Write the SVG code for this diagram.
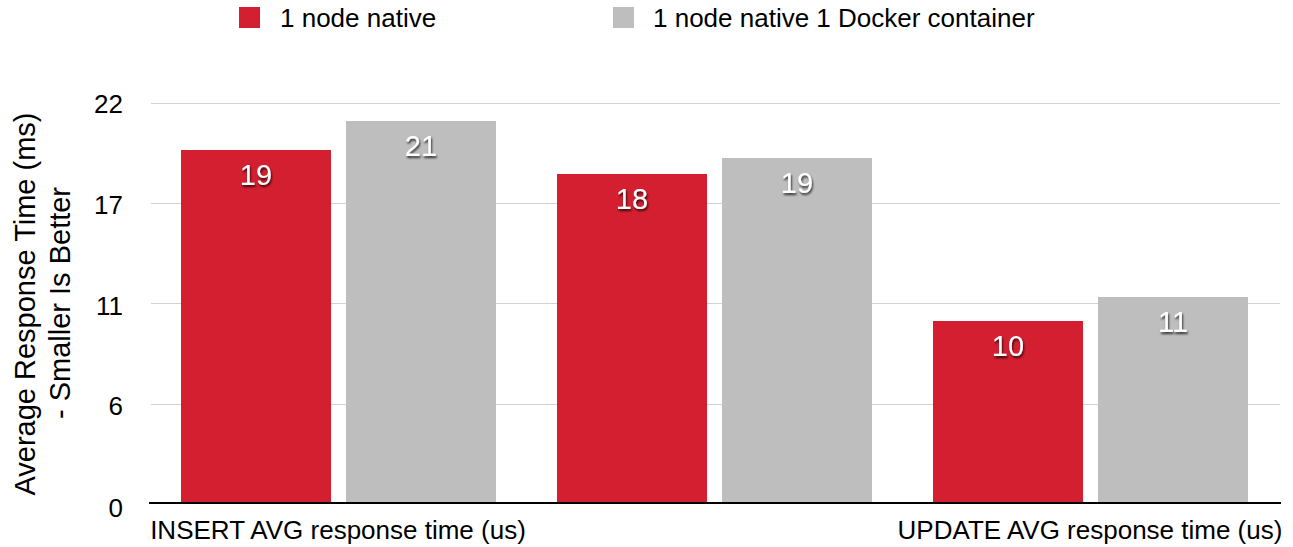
<svg xmlns="http://www.w3.org/2000/svg" width="1293" height="547" viewBox="0 0 1293 547">
  <style>
    text { font-family: "Liberation Sans", Arial, Helvetica, sans-serif; fill: #000; }
    .legend { font-size: 26px; }
    .tick { font-size: 26px; text-anchor: end; }
    .cat { font-size: 26px; text-anchor: middle; }
    .title { font-size: 29px; text-anchor: middle; }
    .val { font-size: 29px; text-anchor: middle; fill: #fff; filter: url(#shadow); }
    .grid { stroke: #d2d2d2; stroke-width: 1; }
    .native { fill: #d41f30; }
    .docker { fill: #bebebe; }
  </style>
  <defs>
    <filter id="shadow" x="-30%" y="-30%" width="160%" height="160%">
      <feDropShadow dx="1" dy="2" stdDeviation="1.2" flood-color="#000" flood-opacity="0.75"/>
    </filter>
  </defs>
  <rect width="1293" height="547" fill="#fff"/>

  <!-- legend -->
  <g id="legend">
    <rect class="native" x="239" y="7" width="21" height="21"/>
    <text class="legend" x="280" y="27">1 node native</text>
    <rect class="docker" x="613" y="7" width="21" height="21"/>
    <text class="legend" x="653" y="27">1 node native 1 Docker container</text>
  </g>

  <!-- value axis -->
  <g id="grid">
    <line class="grid" x1="151" y1="103.5" x2="1280" y2="103.5"/>
    <line class="grid" x1="151" y1="203.5" x2="1280" y2="203.5"/>
    <line class="grid" x1="151" y1="303.5" x2="1280" y2="303.5"/>
    <line class="grid" x1="151" y1="404.5" x2="1280" y2="404.5"/>
  </g>
  <g id="ticks">
    <text class="tick" x="123" y="113">22</text>
    <text class="tick" x="123" y="214">17</text>
    <text class="tick" x="123" y="315">11</text>
    <text class="tick" x="123" y="415">6</text>
    <text class="tick" x="123" y="517">0</text>
  </g>
  <g id="axis-title">
    <text class="title" transform="translate(35,304) rotate(-90)">Average Response Time (ms)</text>
    <text class="title" transform="translate(70,303) rotate(-90)">- Smaller Is Better</text>
  </g>

  <!-- bars -->
  <g id="insert-group">
    <rect class="native" x="181" y="150" width="150" height="353"/>
    <text class="val" x="256" y="185">19</text>
    <rect class="docker" x="346" y="121" width="150" height="382"/>
    <text class="val" x="421" y="156">21</text>
  </g>
  <g id="middle-group">
    <rect class="native" x="557" y="174" width="150" height="329"/>
    <text class="val" x="632" y="209">18</text>
    <rect class="docker" x="722" y="158" width="150" height="345"/>
    <text class="val" x="797" y="193">19</text>
  </g>
  <g id="update-group">
    <rect class="native" x="933" y="321" width="150" height="182"/>
    <text class="val" x="1008" y="356">10</text>
    <rect class="docker" x="1098" y="297" width="150" height="206"/>
    <text class="val" x="1173" y="332">11</text>
  </g>

  <!-- category axis -->
  <g id="category-axis">
    <line x1="149" y1="503" x2="1281" y2="503" stroke="#000" stroke-width="2"/>
    <text class="cat" x="338" y="539">INSERT AVG response time (us)</text>
    <text class="cat" x="1090" y="539">UPDATE AVG response time (us)</text>
  </g>
</svg>
